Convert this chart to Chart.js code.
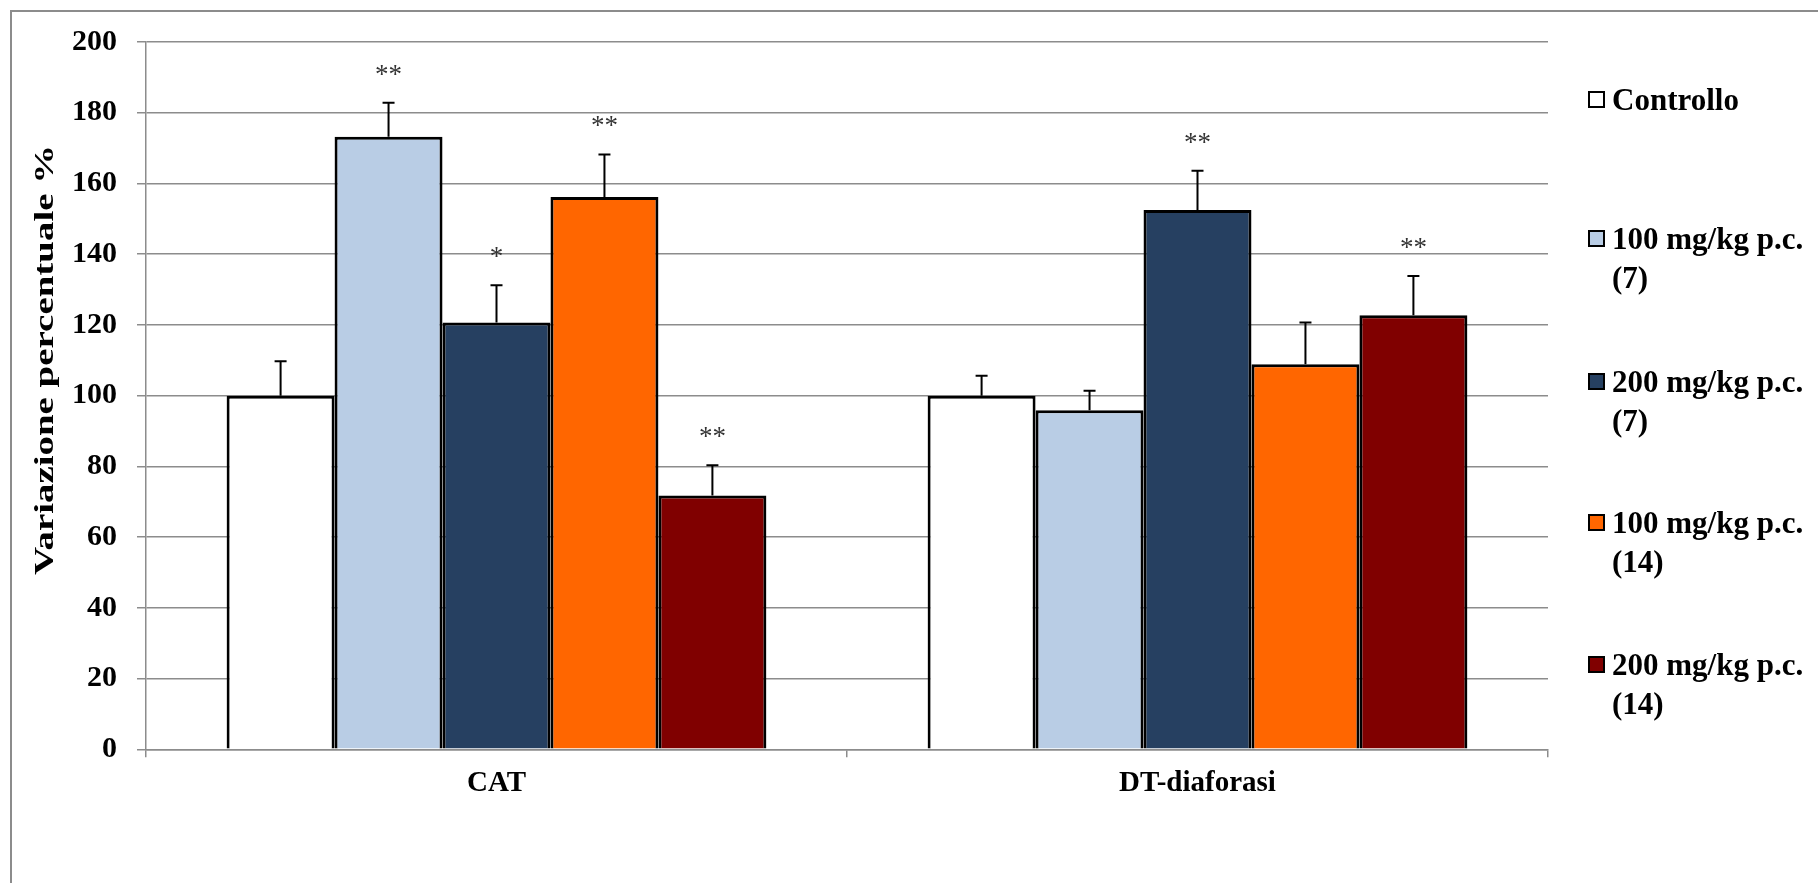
<!DOCTYPE html>
<html>
<head>
<meta charset="utf-8">
<script src="https://cdn.jsdelivr.net/npm/chart.js@4.4.0/dist/chart.umd.min.js"></script>
<style>
  body { margin: 0; background: #fff; overflow: hidden; }
  #frame { position: absolute; left: 10px; top: 10px; width: 1900px; height: 1000px; border: 2px solid #8c8c8c; }
  #wrap { position: absolute; left: 0; top: 0; width: 1818px; height: 883px; }
  .leg { position: absolute; left: 1588px; font: bold 31px "Liberation Serif", "Times New Roman", serif; color: #000; line-height: 39px; }
  .leg .box { position: absolute; left: 0; top: 11px; width: 13px; height: 13px; border: 2px solid #000; }
  .leg .txt { position: absolute; left: 24px; top: 0; width: 205px; }
</style>
</head>
<body>
<div id="frame"></div>
<div id="wrap"><canvas id="c"></canvas></div>
<div id="legend"></div>
<script>
const categories = ["CAT", "DT-diaforasi"];
const seriesNames = ["Controllo", "100 mg/kg p.c. (7)", "200 mg/kg p.c. (7)", "100 mg/kg p.c. (14)", "200 mg/kg p.c. (14)"];
const seriesColors = ["#ffffff", "#b9cde5", "#264061", "#ff6600", "#800000"];

// mean values per series [CAT, DT-diaforasi]
const controllo = [100, 100];
const dose100d7 = [173.2, 95.9];
const dose200d7 = [120.7, 152.5];
const dose100d14 = [156.2, 108.9];
const dose200d14 = [71.8, 122.7];

// error bar (+) sizes
const errControllo = [9.7, 5.6];
const err100d7 = [9.6, 5.5];
const err200d7 = [10.5, 11.1];
const err100d14 = [12.0, 11.8];
const err200d14 = [8.5, 11.1];

// significance marks
const starsControllo = ["", ""];
const stars100d7 = ["**", ""];
const stars200d7 = ["*", "**"];
const stars100d14 = ["**", ""];
const stars200d14 = ["**", "**"];

const yTicks = [0, 20, 40, 60, 80, 100, 120, 140, 160, 180, 200];

const values = [controllo, dose100d7, dose200d7, dose100d14, dose200d14];
const errors = [errControllo, err100d7, err200d7, err100d14, err200d14];
const stars = [starsControllo, stars100d7, stars200d7, stars100d14, stars200d14];

const serif = "'Liberation Serif', 'Times New Roman', serif";

const errorBars = {
  id: "errorBars",
  afterDatasetsDraw(chart) {
    const ctx = chart.ctx;
    const y = chart.scales.y;
    ctx.save();
    chart.data.datasets.forEach((ds, i) => {
      const meta = chart.getDatasetMeta(i);
      meta.data.forEach((bar, j) => {
        const top = y.getPixelForValue(ds.data[j] + ds.err[j]);
        ctx.strokeStyle = "#000";
        ctx.lineWidth = 2;
        ctx.beginPath();
        ctx.moveTo(bar.x, bar.y);
        ctx.lineTo(bar.x, top);
        ctx.moveTo(bar.x - 6, top);
        ctx.lineTo(bar.x + 6, top);
        ctx.stroke();
        if (ds.stars[j]) {
          ctx.fillStyle = "#333";
          ctx.font = "27px " + serif;
          ctx.textAlign = "center";
          ctx.textBaseline = "alphabetic";
          ctx.fillText(ds.stars[j], bar.x, top - 20);
        }
      });
    });
    ctx.restore();
  }
};

const yTitle = {
  id: "yTitle",
  afterDraw(chart) {
    const ctx = chart.ctx;
    ctx.save();
    ctx.translate(46, 360);
    ctx.rotate(-Math.PI / 2);
    ctx.scale(1.39, 1);
    ctx.font = "bold 28px " + serif;
    ctx.fillStyle = "#000";
    ctx.textAlign = "center";
    ctx.textBaseline = "middle";
    ctx.fillText("Variazione percentuale %", 0, 0);
    ctx.restore();
  }
};

const chart = new Chart(document.getElementById("c"), {
  type: "bar",
  data: {
    labels: categories,
    datasets: seriesNames.map((name, i) => ({
      label: name,
      data: values[i],
      err: errors[i],
      stars: stars[i],
      backgroundColor: seriesColors[i],
      borderColor: "#000",
      borderWidth: 3,
      categoryPercentage: 0.77,
      barPercentage: 1.0,
    })),
  },
  options: {
    responsive: true,
    maintainAspectRatio: false,
    animation: false,
    layout: { padding: { top: 42, right: 270, bottom: 0, left: 0 } },
    plugins: { legend: { display: false }, tooltip: { enabled: false } },
    scales: {
      x: {
        grid: { display: true, drawOnChartArea: false, offset: true, color: "#8c8c8c", lineWidth: 1.5, tickLength: 8 },
        border: { color: "#8c8c8c", width: 1.5 },
        ticks: { color: "#000", font: { family: serif, size: 29, weight: "bold" }, padding: 9 },
        afterFit: (s) => { s.height = 133.7; },
      },
      y: {
        min: 0,
        max: 200,
        afterBuildTicks: (s) => { s.ticks = yTicks.map((v) => ({ value: v })); },
        grid: { color: "#8c8c8c", lineWidth: 1.5, tickLength: 9 },
        border: { color: "#8c8c8c", width: 1.5 },
        ticks: { color: "#000", font: { family: serif, size: 30, weight: "bold" }, padding: 20 },
        afterFit: (s) => { s.width = 146; },
      },
    },
  },
  plugins: [errorBars, yTitle],
});

// legend, Excel-style on the right
const legendTops = [80, 219, 362, 503, 645];
const legend = document.getElementById("legend");
seriesNames.forEach((name, i) => {
  const d = document.createElement("div");
  d.className = "leg";
  d.style.top = legendTops[i] + "px";
  d.innerHTML = '<div class="box" style="background:' + seriesColors[i] + '"></div><div class="txt"></div>';
  d.querySelector(".txt").textContent = name;
  legend.appendChild(d);
});
</script>
</body>
</html>
